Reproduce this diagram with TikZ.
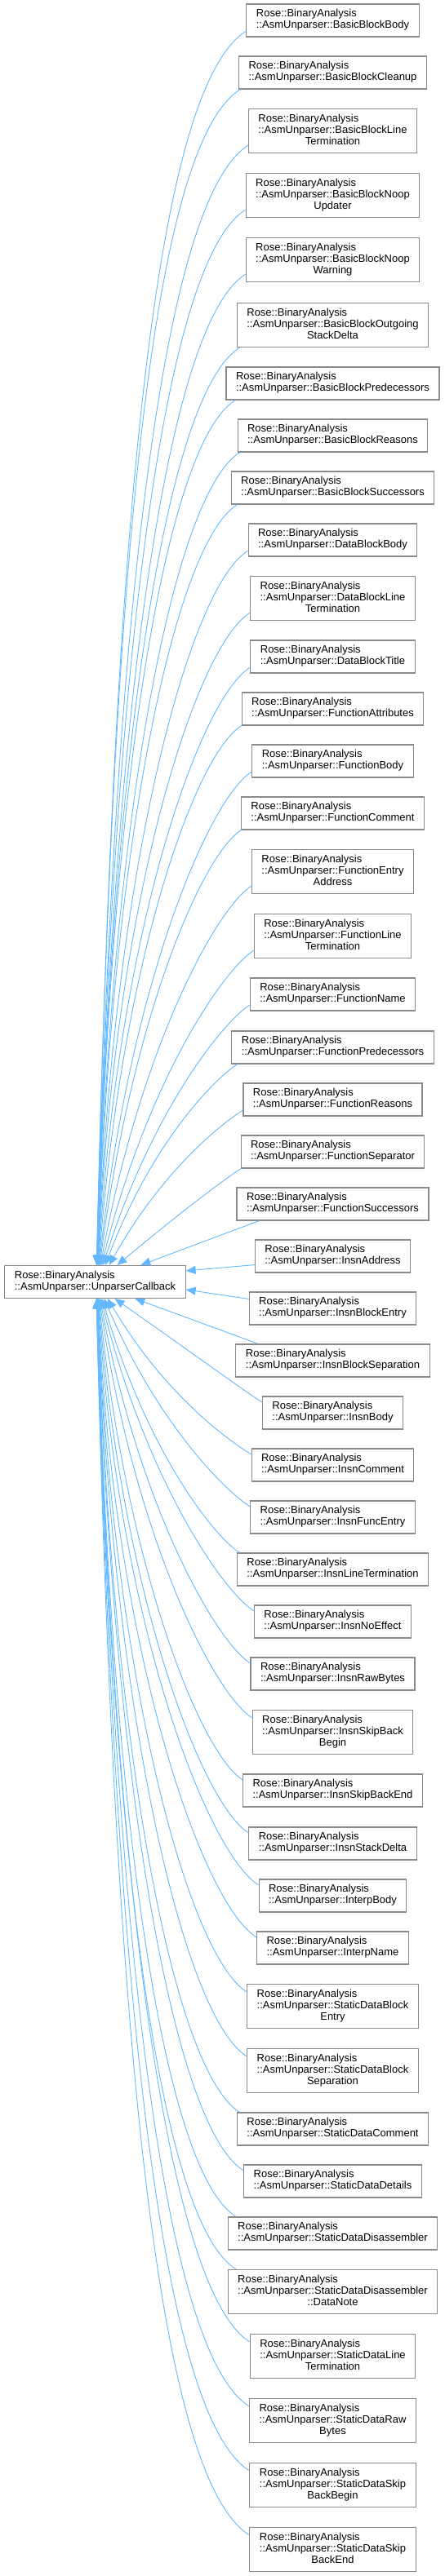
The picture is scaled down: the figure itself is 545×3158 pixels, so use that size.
\documentclass[tikz,border=0pt]{standalone}
\usepackage{fontspec}
\setmainfont{Liberation Sans}
\usetikzlibrary{calc,arrows.meta}
\definecolor{edgeblue}{HTML}{63B8FF}
\definecolor{boxgray}{HTML}{8A8A8A}
\newcommand\twoline[1]{\begin{tabular}{@{}l@{}}Rose::BinaryAnalysis\\::AsmUnparser::#1\end{tabular}}
\newcommand\threeline[2]{\begin{tabular}{@{}l@{}}Rose::BinaryAnalysis\\::AsmUnparser::#1\\\multicolumn{1}{@{}c@{}}{#2}\end{tabular}}
\begin{document}
\begin{tikzpicture}[x=1pt,y=1pt,
  box/.style={draw=boxgray, line width=1.1pt, fill=white, inner xsep=12pt, inner ysep=5.8pt, font=\fontsize{13}{14.2}\selectfont},
  edge/.style={draw=edgeblue, line width=0.9pt, -{Triangle[length=12pt,width=10pt]}}]
\path[use as bounding box] (0,0) rectangle (545,-3158);
\node[box] (p) at (116.5,-1571.5) {\begin{tabular}{@{}l@{}}Rose::BinaryAnalysis\\::AsmUnparser::UnparserCallback\end{tabular}};
\node[box] (c1) at (407.5,-25) {\twoline{BasicBlockBody}};
\node[box] (c2) at (407.5,-89) {\twoline{BasicBlockCleanup}};
\node[box] (c3) at (407.5,-160.5) {\threeline{BasicBlockLine}{Termination}};
\node[box] (c4) at (407.5,-239.5) {\threeline{BasicBlockNoop}{Updater}};
\node[box] (c5) at (407.5,-318.5) {\threeline{BasicBlockNoop}{Warning}};
\node[box] (c6) at (407.5,-398.5) {\threeline{BasicBlockOutgoing}{StackDelta}};
\node[box] (c7) at (407.5,-470) {\twoline{BasicBlockPredecessors}};
\node[box] (c8) at (407.5,-534) {\twoline{BasicBlockReasons}};
\node[box] (c9) at (407.5,-598) {\twoline{BasicBlockSuccessors}};
\node[box] (c10) at (407.5,-662) {\twoline{DataBlockBody}};
\node[box] (c11) at (407.5,-733.5) {\threeline{DataBlockLine}{Termination}};
\node[box] (c12) at (407.5,-805) {\twoline{DataBlockTitle}};
\node[box] (c13) at (407.5,-869) {\twoline{FunctionAttributes}};
\node[box] (c14) at (407.5,-933) {\twoline{FunctionBody}};
\node[box] (c15) at (407.5,-997) {\twoline{FunctionComment}};
\node[box] (c16) at (407.5,-1068.5) {\threeline{FunctionEntry}{Address}};
\node[box] (c17) at (407.5,-1147.5) {\threeline{FunctionLine}{Termination}};
\node[box] (c18) at (407.5,-1219) {\twoline{FunctionName}};
\node[box] (c19) at (407.5,-1284) {\twoline{FunctionPredecessors}};
\node[box] (c20) at (407.5,-1348) {\twoline{FunctionReasons}};
\node[box] (c21) at (407.5,-1412) {\twoline{FunctionSeparator}};
\node[box] (c22) at (407.5,-1476) {\twoline{FunctionSuccessors}};
\node[box] (c23) at (407.5,-1540) {\twoline{InsnAddress}};
\node[box] (c24) at (407.5,-1604) {\twoline{InsnBlockEntry}};
\node[box] (c25) at (407.5,-1668) {\twoline{InsnBlockSeparation}};
\node[box] (c26) at (407.5,-1732) {\twoline{InsnBody}};
\node[box] (c27) at (407.5,-1796) {\twoline{InsnComment}};
\node[box] (c28) at (407.5,-1860) {\twoline{InsnFuncEntry}};
\node[box] (c29) at (407.5,-1924) {\twoline{InsnLineTermination}};
\node[box] (c30) at (407.5,-1988) {\twoline{InsnNoEffect}};
\node[box] (c31) at (407.5,-2052) {\twoline{InsnRawBytes}};
\node[box] (c32) at (407.5,-2123.5) {\threeline{InsnSkipBack}{Begin}};
\node[box] (c33) at (407.5,-2195) {\twoline{InsnSkipBackEnd}};
\node[box] (c34) at (407.5,-2260) {\twoline{InsnStackDelta}};
\node[box] (c35) at (407.5,-2324) {\twoline{InterpBody}};
\node[box] (c36) at (407.5,-2388) {\twoline{InterpName}};
\node[box] (c37) at (407.5,-2459.5) {\threeline{StaticDataBlock}{Entry}};
\node[box] (c38) at (407.5,-2538.5) {\threeline{StaticDataBlock}{Separation}};
\node[box] (c39) at (407.5,-2610) {\twoline{StaticDataComment}};
\node[box] (c40) at (407.5,-2674) {\twoline{StaticDataDetails}};
\node[box] (c41) at (407.5,-2738) {\twoline{StaticDataDisassembler}};
\node[box] (c42) at (407.5,-2809.5) {\threeline{StaticDataDisassembler}{::DataNote}};
\node[box] (c43) at (407.5,-2888.5) {\threeline{StaticDataLine}{Termination}};
\node[box] (c44) at (407.5,-2967.5) {\threeline{StaticDataRaw}{Bytes}};
\node[box] (c45) at (407.5,-3046.5) {\threeline{StaticDataSkip}{BackBegin}};
\node[box] (c46) at (407.5,-3125.5) {\threeline{StaticDataSkip}{BackEnd}};
% edges from children above the parent
\foreach \i in {1,...,21}{
  \pgfmathsetmacro\k{23-\i}
  \pgfmathsetmacro\ex{111+58/(\k^1.1)}
  \path let \p1=($(c\i.south west)!0.18!(c\i.north west)$), \p2=($(p.north west)+(\ex,0)$),
            \p3=(c\i.south west), \p4=(c\i.north west) in \pgfextra{%
    \pgfmathsetmacro\sdx{max(0,0.6*(296-\x3))}%
    \pgfmathsetmacro\sdy{(\x3>=296)*0.18*(\y4-\y3)}%
    \pgfmathsetmacro\ddx{\x1-\x2}%
    \pgfmathsetmacro\ddy{\y1-\y2}%
    \pgfmathsetmacro\LL{veclen(\ddx,\ddy)}%
    \pgfmathsetmacro\th{atan2(\ddy,\ddx)}%
    \pgfmathsetmacro\ff{(\k>2)*min(0.8,0.1+0.06*\k)}%
    \pgfmathsetmacro\ain{\th+\ff*(90-\th)}%
    \pgfmathsetmacro\aout{180+min(\th,32)}%
    \pgfmathsetmacro\da{0.09*\LL+4}%
    \pgfmathsetmacro\db{0.55*\LL}%
    \xdef\gain{\ain}\xdef\gaout{\aout}\xdef\gda{\da}\xdef\gdb{\db}\xdef\gsx{\sdx}\xdef\gsy{\sdy}};
  \draw[edge] ($(c\i.south west)+(\gsx,\gsy)$) .. controls +(\gaout:\gda) and +(\gain:\gdb) .. ($(p.north west)+(\ex,0)$);
}
% edges from children below the parent
\foreach \i in {26,...,46}{
  \pgfmathsetmacro\k{\i-24}
  \pgfmathsetmacro\ex{111+52/(\k^1.1)}
  \path let \p1=($(c\i.north west)!0.18!(c\i.south west)$), \p2=($(p.south west)+(\ex,0)$),
            \p3=(c\i.south west), \p4=(c\i.north west) in \pgfextra{%
    \pgfmathsetmacro\sdx{max(0,0.6*(296-\x3))}%
    \pgfmathsetmacro\sdy{(\x3>=296)*0.18*(\y4-\y3)}%
    \pgfmathsetmacro\ddx{\x1-\x2}%
    \pgfmathsetmacro\ddy{\y2-\y1}%
    \pgfmathsetmacro\LL{veclen(\ddx,\ddy)}%
    \pgfmathsetmacro\th{atan2(\ddy,\ddx)}%
    \pgfmathsetmacro\ff{(\k>2)*min(0.8,0.1+0.06*\k)}%
    \pgfmathsetmacro\ain{-\th-\ff*(90-\th)}%
    \pgfmathsetmacro\aout{180-min(\th,32)}%
    \pgfmathsetmacro\da{0.09*\LL+4}%
    \pgfmathsetmacro\db{0.55*\LL}%
    \xdef\gain{\ain}\xdef\gaout{\aout}\xdef\gda{\da}\xdef\gdb{\db}\xdef\gsx{\sdx}\xdef\gsy{\sdy}};
  \draw[edge] ($(c\i.north west)+(\gsx,-\gsy)$) .. controls +(\gaout:\gda) and +(\gain:\gdb) .. ($(p.south west)+(\ex,0)$);
}
% nearest children: nearly straight connectors
\draw[edge] ($(c22.south west)+(28,0)$) -- ($(p.north west)+(167,0)$);
\draw[edge] ($(c25.north west)+(28,0)$) -- ($(p.south west)+(160,0)$);
% edges ending on the right side of the parent
\draw[edge] ($(c23.south west)+(0,10)$) -- ($(p.north east)+(0,-7)$);
\draw[edge] ($(c24.north west)+(0,-9)$) -- ($(p.north east)+(0,-30)$);
\end{tikzpicture}
\end{document}
